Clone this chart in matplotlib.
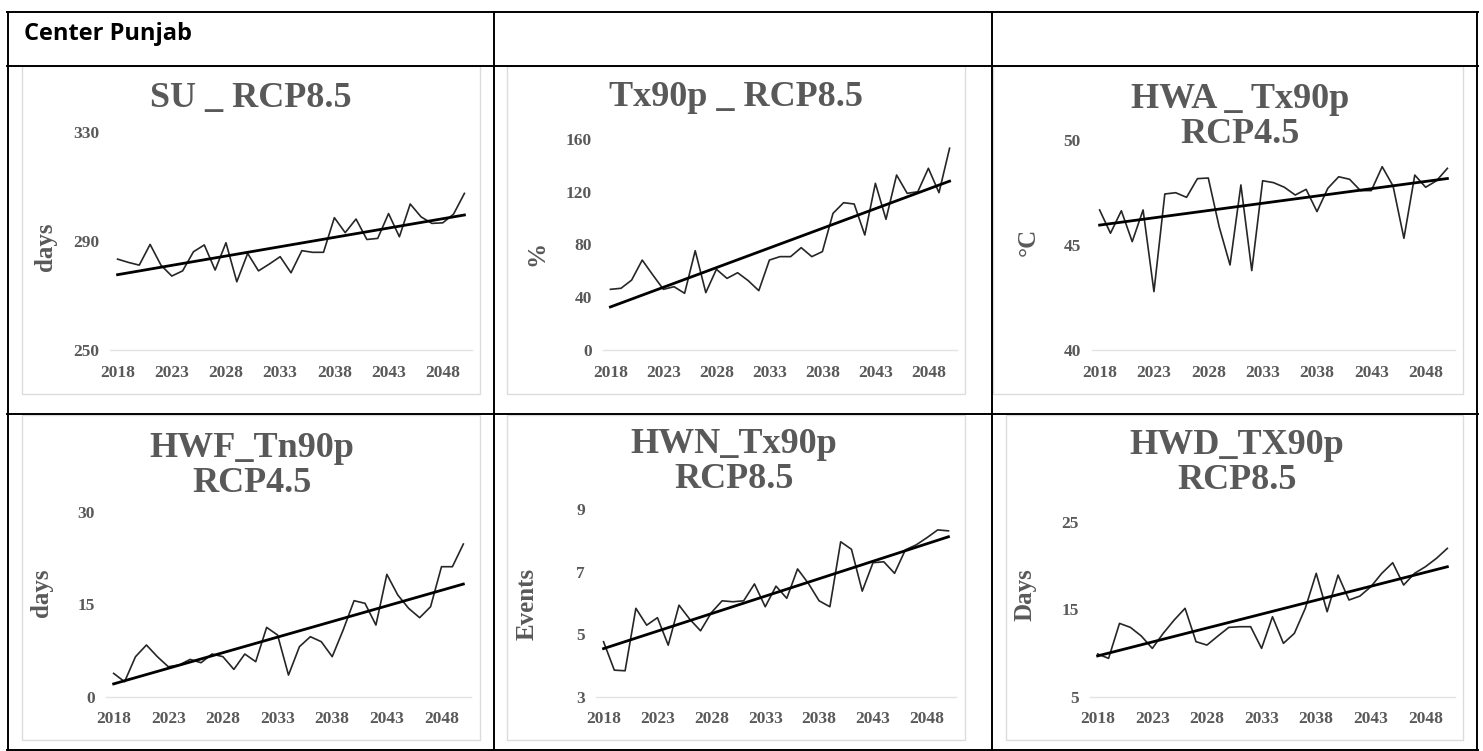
import numpy as np
import matplotlib
matplotlib.use("Agg")
import matplotlib.pyplot as plt
from matplotlib.lines import Line2D
from matplotlib.patches import Rectangle

W, H = 1483, 751

years = np.arange(2018, 2051)
year_ticks = [2018, 2023, 2028, 2033, 2038, 2043, 2048]

su_rcp85 = [283.3, 282.1, 281.1, 288.7, 281.1, 277.1, 279.0, 286.0, 288.5, 279.3,
            289.3, 275.0, 285.4, 279.0, 281.5, 284.2, 278.3, 286.4, 285.8, 285.8,
            298.5, 293.0, 298.0, 290.5, 290.9, 300.0, 291.5, 303.5, 298.8, 296.4,
            296.6, 299.8, 307.4]
tx90p_rcp85 = [46.0, 46.8, 53.0, 68.2, 56.9, 46.0, 48.0, 43.0, 75.3, 43.5,
               61.2, 54.3, 58.6, 52.6, 45.0, 68.2, 70.8, 70.8, 77.6, 70.8,
               74.6, 103.6, 111.7, 110.7, 87.2, 126.4, 99.1, 132.7, 118.8, 120.0,
               137.8, 119.3, 153.0]
hwa_tx90p_rcp45 = [46.67, 45.56, 46.63, 45.16, 46.67, 42.78, 47.43, 47.49, 47.27, 48.16,
                   48.19, 45.87, 44.05, 47.86, 43.78, 48.06, 47.97, 47.75, 47.38, 47.65,
                   46.59, 47.70, 48.25, 48.13, 47.59, 47.59, 48.73, 47.81, 45.32, 48.33,
                   47.75, 48.06, 48.65]
hwf_tn90p_rcp45 = [3.78, 2.43, 6.49, 8.38, 6.49, 4.86, 5.14, 6.05, 5.51, 6.92,
                   6.49, 4.43, 6.92, 5.68, 11.24, 10.0, 3.51, 8.11, 9.73, 8.92,
                   6.49, 10.81, 15.57, 15.14, 11.62, 19.84, 16.49, 14.32, 12.81, 14.59,
                   21.08, 21.08, 24.76]
hwn_tx90p_rcp85 = [4.76, 3.85, 3.83, 5.83, 5.29, 5.53, 4.65, 5.93, 5.48, 5.11,
                   5.69, 6.07, 6.04, 6.07, 6.61, 5.88, 6.54, 6.15, 7.09, 6.63,
                   6.07, 5.88, 7.96, 7.72, 6.38, 7.29, 7.32, 6.95, 7.70, 7.86,
                   8.09, 8.34, 8.31]
hwd_tx90p_rcp85 = [9.88, 9.38, 13.38, 12.92, 11.93, 10.52, 12.24, 13.76, 15.10, 11.29,
                   10.90, 11.93, 12.92, 13.0, 13.0, 10.52, 14.14, 11.10, 12.24, 15.10,
                   19.10, 14.71, 18.90, 16.05, 16.50, 17.57, 19.10, 20.31, 17.76, 19.10,
                   19.86, 20.81, 21.95]

su_ticks = [250, 290, 330]
tx90p_ticks = [0, 40, 80, 120, 160]
hwa_ticks = [40, 45, 50]
hwf_ticks = [0, 15, 30]
hwn_ticks = [3, 5, 7, 9]
hwd_ticks = [5, 15, 25]

GREY = "#595959"
SERIF = "Liberation Serif"


def fx(x):
    return x / W


def fy(y):
    return 1 - y / H


fig = plt.figure(figsize=(W / 100, H / 100), dpi=100)

# table grid
for y in [12, 66, 414, 749.5]:
    fig.add_artist(Line2D([fx(7), fx(1478)], [fy(y), fy(y)], color="black", lw=1.4))
for x in [8, 493.5, 992, 1477]:
    fig.add_artist(Line2D([fx(x), fx(x)], [fy(11.5), fy(750)], color="black", lw=1.4))

fig.text(fx(24), fy(33.5), "Center Punjab", fontsize=17, fontweight="bold",
         family="Open Sans", va="center", ha="left")

# chart box, plot box (l, r, t, b), title centre, ylabel centre
panels = [
    (su_rcp85, su_ticks, "SU _ RCP8.5", "days",
     (22, 480, 66, 394), (110, 472, 131.7, 350), (251, 98), (45, 247)),
    (tx90p_rcp85, tx90p_ticks, "Tx90p _ RCP8.5", "%",
     (507, 965, 66, 394), (603, 957, 139, 350), (736, 97), (537, 253)),
    (hwa_tx90p_rcp45, hwa_ticks, "HWA _ Tx90p\nRCP4.5", "°C",
     (993, 1463, 66, 394), (1092, 1455, 140, 350), (1240, 117), (1028, 242)),
    (hwf_tn90p_rcp45, hwf_ticks, "HWF_Tn90p\nRCP4.5", "days",
     (22, 480, 415, 740), (106, 471, 511.7, 696.7), (252, 466), (42, 593)),
    (hwn_tx90p_rcp85, hwn_ticks, "HWN_Tx90p\nRCP8.5", "Events",
     (507, 965, 415, 740), (596, 956, 509.3, 696.7), (734, 462), (527, 604)),
    (hwd_tx90p_rcp85, hwd_ticks, "HWD_TX90p\nRCP8.5", "Days",
     (1006, 1463, 415, 740), (1090, 1455, 521.7, 696.7), (1237, 463), (1025, 595)),
]

for vals, yt, title, ylab, box, plot, tpos, lpos in panels:
    bl, br, bt, bb = box
    fig.add_artist(Rectangle((fx(bl), fy(bb)), fx(br - bl), (bb - bt) / H,
                             fill=False, edgecolor="#dcdcdc", lw=1.0))

    pl, pr, pt, pb = plot
    ax = fig.add_axes([fx(pl), fy(pb), fx(pr - pl), (pb - pt) / H])
    vals = np.array(vals)
    ax.plot(years, vals, color="#262626", lw=1.2)
    k, c = np.polyfit(years, vals, 1)
    ax.plot(years, k * years + c, color="black", lw=2.0)

    ax.set_xlim(2017.3, 2050.7)
    ax.set_ylim(yt[0], yt[-1])
    ax.set_xticks(year_ticks)
    ax.set_yticks(yt)
    ax.tick_params(length=0, labelsize=12.5, labelcolor=GREY)
    ax.tick_params(axis="x", pad=10.5)
    ax.tick_params(axis="y", pad=8)
    for lab in ax.get_xticklabels() + ax.get_yticklabels():
        lab.set_family(SERIF)
        lab.set_fontweight("bold")
    for s in ["top", "right", "left"]:
        ax.spines[s].set_visible(False)
    ax.spines["bottom"].set_color("#e3e3e3")
    ax.spines["bottom"].set_linewidth(1.0)
    ax.patch.set_alpha(0)

    fig.text(fx(tpos[0]), fy(tpos[1]), title, ha="center", va="center",
             fontsize=26, fontweight="bold", family=SERIF, color=GREY,
             linespacing=1.05)
    fig.text(fx(lpos[0]), fy(lpos[1]), ylab, ha="center", va="center",
             rotation=90, fontsize=18, fontweight="bold", family=SERIF,
             color=GREY)

fig.savefig("out.png", dpi=100)
